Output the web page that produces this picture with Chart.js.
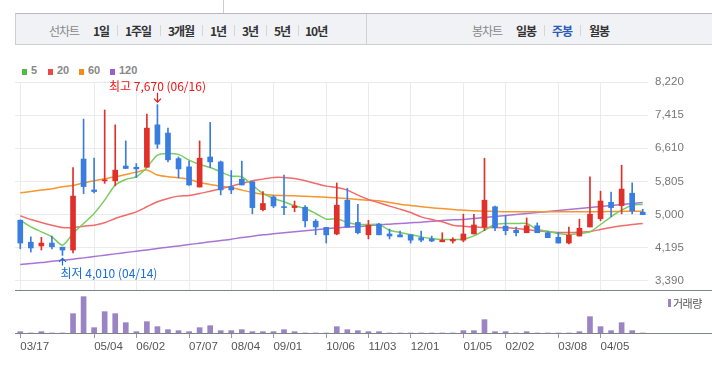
<!DOCTYPE html>
<html>
<head>
<meta charset="utf-8">
<script src="https://cdn.jsdelivr.net/npm/chart.js@4.4.0/dist/chart.umd.min.js"></script>
<style>
  body { margin: 0; width: 712px; height: 370px; background: #fff; position: relative; overflow: hidden;
         font-family: "Noto Sans CJK KR", "Liberation Sans", sans-serif; }
  .abs { position: absolute; }
  .t { position: absolute; top: 22px; height: 18px; line-height: 18px; font-size: 12px; letter-spacing: -1px;
       white-space: nowrap; font-weight: bold; color: #333; }
  .t.lbl { font-weight: normal; color: #888; }
  .sep { position: absolute; top: 25px; width: 1px; height: 11px; background: #d6d6d6; }
  .lg { position: absolute; top: 64px; line-height: 16px; font: bold 11px "Liberation Sans", Arial, sans-serif; color: #888; }
  .sq { position: absolute; top: 69px; width: 5px; height: 6px; }
  canvas { position: absolute; left: 0; }
</style>
</head>
<body>
<!-- header bar -->
<div class="abs" style="left:223px;top:0;width:1px;height:13px;background:#ccc"></div>
<div class="abs" style="left:15px;top:13px;width:697px;height:30px;background:#f1f2f6;border-top:1px solid #b9b9b9;border-bottom:1px solid #cfcfcf;border-left:1px solid #cfcfcf;box-sizing:content-box"></div>
<div class="abs" style="left:366px;top:14px;width:1px;height:30px;background:#d0d0d0"></div>
<span class="t lbl" style="left:49px">선차트</span>
<span class="t" style="left:93px">1일</span><div class="sep" style="left:117px"></div>
<span class="t" style="left:125px">1주일</span><div class="sep" style="left:160px"></div>
<span class="t" style="left:168px">3개월</span><div class="sep" style="left:202px"></div>
<span class="t" style="left:210px">1년</span><div class="sep" style="left:234px"></div>
<span class="t" style="left:242px">3년</span><div class="sep" style="left:266px"></div>
<span class="t" style="left:274px">5년</span><div class="sep" style="left:298px"></div>
<span class="t" style="left:305px">10년</span>
<span class="t lbl" style="left:472px">봉차트</span>
<span class="t" style="left:516px">일봉</span><div class="sep" style="left:544px"></div>
<span class="t" style="left:552px;color:#2c5bb8">주봉</span><div class="sep" style="left:580px"></div>
<span class="t" style="left:589px">월봉</span>

<!-- moving average legend -->
<div class="sq" style="left:22px;background:#55bb3f"></div><span class="lg" style="left:31px">5</span>
<div class="sq" style="left:48px;background:#ef4848"></div><span class="lg" style="left:57px">20</span>
<div class="sq" style="left:79px;background:#f58b1a"></div><span class="lg" style="left:88px">60</span>
<div class="sq" style="left:110px;background:#9b5fcc"></div><span class="lg" style="left:119px">120</span>

<canvas id="price" width="712" height="232" style="top:60px"></canvas>
<canvas id="volume" width="712" height="80" style="top:290px"></canvas>

<!-- panel separator and volume baseline -->
<div class="abs" style="left:15px;top:290px;width:697px;height:1px;background:#7f838a"></div>
<div class="abs" style="left:15px;top:333px;width:697px;height:1px;background:#7f838a"></div>
<div class="abs" style="left:668px;top:299px;width:3px;height:8px;background:#9a84c4"></div>
<span class="abs" style="left:673px;top:295px;line-height:16px;font-size:11px;color:#555;letter-spacing:-0.5px">거래량</span>

<script>
const weeks = ['03/17','03/24','03/31','04/07','04/14','04/21','04/28','05/04','05/12','05/19',
  '05/26','06/02','06/09','06/16','06/23','06/30','07/07','07/14','07/21','07/28',
  '08/04','08/11','08/18','08/25','09/01','09/11','09/15','09/22','09/29','10/06',
  '10/13','10/20','10/27','11/03','11/10','11/17','11/24','12/01','12/08','12/15',
  '12/22','12/29','01/05','01/12','01/19','01/26','02/02','02/09','02/16','02/23',
  '03/02','03/08','03/15','03/22','03/29','04/05','04/12','04/19','04/26','05/03'];
const tickLabels = ['03/17','05/04','06/02','07/07','08/04','09/01','10/06','11/03','12/01','01/05','02/02','03/08','04/05'];
const yTicks = [3390, 4195, 5000, 5805, 6610, 7415, 8220];

const openP  = [4865,4330,4240,4310,4210,4140,6350,5600,5820,5820, 6180,6150,6150,7180,6980,6360,6160,5670,6400,6280,
                5680,5860,5800,5120,5430,5190,5170,5180,4840,4690, 4530,5350,4810,4510,4770,4530,4510,4510,4440,4410,
                4340,4360,4380,4530,4700,5190,4720,4620,4560,4730, 4560,4450,4310,4480,4700,4900,5300,5220,5520,5060];
const highP  = [4870,4460,4450,4480,4210,6140,7320,6370,7540,7180, 6790,6240,7440,7670,7100,6400,6300,6790,7240,6300,
                6070,6300,5800,5560,5460,5960,5330,5220,4880,4690, 5770,5640,5250,4860,4790,4650,4600,4510,4600,4480,
                4560,4440,5010,5010,6370,5210,4980,4700,4920,4800, 4590,4570,4700,4890,5920,5570,5550,6200,5770,5130];
const lowP   = [4170,4090,4140,4170,4010,4070,5510,5530,5760,5700, 6120,5900,6150,6610,6280,5890,5710,5670,6140,5480,
                5510,5720,5020,5090,5170,5000,5070,4700,4510,4310, 4510,4700,4530,4410,4510,4410,4460,4310,4340,4340,
                4340,4310,4340,4530,4610,4610,4510,4480,4560,4560, 4440,4310,4290,4480,4700,4850,4950,5020,5020,5000];
const closeP = [4310,4190,4310,4220,4140,5450,5680,5560,5840,6080, 6120,6110,7100,6710,6330,6110,5720,6370,6280,5600,
                5600,5720,5170,5270,5210,5170,5210,4850,4700,4510, 5230,4700,4560,4740,4510,4480,4460,4380,4380,4360,
                4380,4400,4530,4750,5350,4680,4610,4560,4730,4560, 4440,4310,4500,4670,5010,5330,5170,5620,5090,5000];

const ma5   = [4865,4703,4582,4460,4258,4541,4784,5027,5351,5716, 5854,5919,6146,6445,6486,6462,6324,6219,6146,6040,
               5935,5919,5716,5514,5392,5311,5214,5149,5027,4890, 4898,4809,4760,4760,4760,4622,4566,4517,4460,4420,
               4395,4395,4404,4484,4622,4760,4784,4784,4784,4639, 4598,4541,4517,4541,4582,4760,4946,5108,5230,5246];
const ma20  = [4971,4882,4809,4744,4687,4687,4720,4744,4801,4906, 4987,5068,5190,5311,5392,5449,5465,5514,5570,5627,
               5692,5757,5822,5862,5903,5903,5878,5822,5757,5692, 5659,5595,5473,5368,5287,5206,5133,5052,4946,4882,
               4825,4744,4720,4703,4687,4687,4679,4663,4639,4606, 4582,4566,4566,4574,4590,4639,4687,4728,4760,4784];
const ma60  = [5530,5562,5595,5627,5676,5708,5773,5822,5870,5919, 5975,6032,6081,5960,5919,5895,5854,5781,5733,5692,
               5651,5595,5538,5497,5473,5465,5457,5449,5433,5424, 5408,5392,5368,5352,5335,5295,5254,5222,5190,5165,
               5149,5125,5108,5092,5084,5076,5068,5068,5068,5068, 5068,5068,5068,5068,5068,5068,5076,5084,5084,5084];
const ma120 = [3788,3812,3836,3869,3893,3917,3950,3982,4015,4047, 4079,4112,4144,4177,4209,4241,4274,4306,4339,4371,
               4404,4444,4476,4509,4533,4558,4582,4606,4630,4655, 4679,4695,4711,4728,4752,4768,4784,4801,4817,4841,
               4857,4873,4881,4906,4930,4955,4979,5003,5027,5052, 5076,5100,5125,5149,5173,5198,5222,5246,5270,5295];
const volume = [40,0,40,0,0,580,1090,160,640,580, 310,40,340,190,100,70,40,160,220,70,
                70,100,40,40,40,100,40,0,0,0, 190,100,70,40,40,0,0,0,0,0,
                0,0,70,70,400,40,40,0,40,0, 0,0,0,40,490,190,70,310,70,0];

const UP = '#e0302a', DOWN = '#3a7de0';
const candleColor = closeP.map((c, i) => c >= openP[i] ? UP : DOWN);
const tickIdx = tickLabels.map(l => weeks.indexOf(l));
const fmt = v => v.toLocaleString('en-US');
const axisFont = { family: '"Liberation Sans", Arial, sans-serif', size: 11.5 };

// max / min markers
const extremes = {
  id: 'extremes',
  afterDatasetsDraw(chart) {
    const { ctx, scales: { x, y } } = chart;
    const hi = highP.indexOf(Math.max(...highP));
    const lo = lowP.indexOf(Math.min(...lowP));
    ctx.save();
    ctx.font = '12px "Noto Sans CJK KR", sans-serif';
    ctx.textBaseline = 'middle';
    ctx.lineWidth = 1.2;

    let px = Math.round(x.getPixelForValue(hi)) + 0.5, py = y.getPixelForValue(highP[hi]);
    ctx.strokeStyle = ctx.fillStyle = '#ee1515';
    ctx.beginPath();
    ctx.moveTo(px, py - 12); ctx.lineTo(px, py - 2.5);
    ctx.moveTo(px - 3.5, py - 6); ctx.lineTo(px, py - 2.5); ctx.lineTo(px + 3.5, py - 6);
    ctx.stroke();
    ctx.textAlign = 'center';
    ctx.fillText('최고 ' + fmt(highP[hi]) + ' (' + weeks[hi] + ')', px, py - 18.5);

    px = Math.round(x.getPixelForValue(lo)) + 0.5; py = y.getPixelForValue(lowP[lo]);
    ctx.strokeStyle = ctx.fillStyle = '#1a6ed8';
    ctx.beginPath();
    ctx.moveTo(px, py + 10); ctx.lineTo(px, py + 3);
    ctx.moveTo(px - 3.5, py + 6.5); ctx.lineTo(px, py + 3); ctx.lineTo(px + 3.5, py + 6.5);
    ctx.stroke();
    ctx.textAlign = 'left';
    ctx.fillText('최저 ' + fmt(lowP[lo]) + ' (' + weeks[lo] + ')', px - 2, py + 18);
    ctx.restore();
  }
};

const maLine = (data, color, order) => ({
  type: 'line', data, borderColor: color, borderWidth: 1.5, pointRadius: 0,
  tension: 0.25, order
});

new Chart(document.getElementById('price'), {
  type: 'bar',
  data: {
    labels: weeks,
    datasets: [
      { data: weeks.map((w, i) => [openP[i], closeP[i]]), backgroundColor: candleColor,
        barThickness: 5, minBarLength: 1, grouped: false, order: 0 },
      { data: weeks.map((w, i) => [lowP[i], highP[i]]), backgroundColor: candleColor,
        barThickness: 1, grouped: false, order: 1 },
      maLine(ma5, '#79cd5f', 2),
      maLine(ma20, '#f26a6a', 3),
      maLine(ma60, '#f7962e', 4),
      maLine(ma120, '#a874d6', 5)
    ]
  },
  options: {
    responsive: false,
    animation: false,
    layout: { padding: { left: 15, right: 0, top: 22, bottom: 2 } },
    plugins: { legend: { display: false }, tooltip: { enabled: false } },
    scales: {
      x: {
        offset: true,
        ticks: { display: false, autoSkip: false },
        grid: { offset: false, drawTicks: false,
                color: c => tickIdx.includes(c.index) ? '#ebebeb' : 'rgba(0,0,0,0)' },
        border: { display: false },
        afterFit: s => { s.height = 0; s.paddingLeft = 0; s.paddingRight = 0; }
      },
      y: {
        position: 'right',
        min: 3170, max: 8220,
        afterBuildTicks: s => { s.ticks = yTicks.map(v => ({ value: v })); },
        ticks: { color: '#777', font: axisFont, padding: 7, callback: v => fmt(v) },
        grid: { color: '#ebebeb', drawTicks: false },
        border: { display: false },
        afterFit: s => { s.width = 64; s.paddingTop = 0; s.paddingBottom = 0; }
      }
    }
  },
  plugins: [extremes]
});

new Chart(document.getElementById('volume'), {
  type: 'bar',
  data: {
    labels: weeks,
    datasets: [{ data: volume, backgroundColor: '#9a84c4', barThickness: 5 }]
  },
  options: {
    responsive: false,
    animation: false,
    layout: { padding: { left: 15, right: 64, top: 0, bottom: 0 } },
    plugins: { legend: { display: false }, tooltip: { enabled: false } },
    scales: {
      x: {
        offset: true,
        ticks: { autoSkip: false, maxRotation: 0, align: 'start', padding: 2, color: '#555', font: axisFont,
                 callback: (v, i) => tickIdx.includes(i) ? weeks[i] : '' },
        grid: { offset: false, drawOnChartArea: false, tickLength: 5,
                color: c => tickIdx.includes(c.index) ? '#999' : 'rgba(0,0,0,0)' },
        border: { display: false },
        afterFit: s => { s.height = 37; s.paddingLeft = 0; s.paddingRight = 0; }
      },
      y: { display: false, min: 0, max: 1290 }
    }
  }
});
</script>
</body>
</html>
